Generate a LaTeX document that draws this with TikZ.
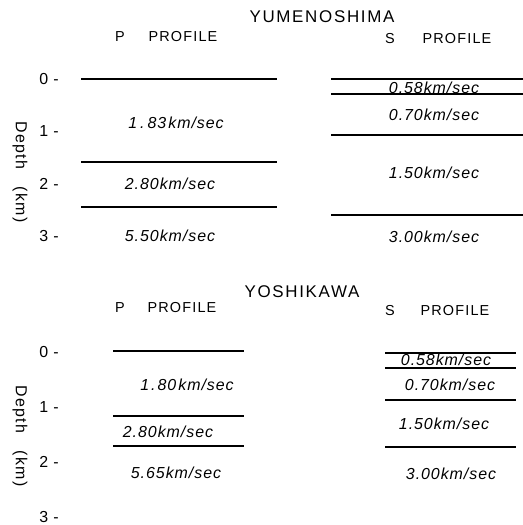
\documentclass[tikz,border=0pt]{standalone}
\usepackage{fontspec}
\setmainfont{Liberation Sans}
\newfontfamily\spaced[LetterSpace=10]{Liberation Sans}
\newfontfamily\vspaced[LetterSpace=6]{Liberation Sans}
\newfontfamily\hspaced[LetterSpace=8]{Liberation Sans}
\begin{document}
\begin{tikzpicture}[x=1bp,y=-1bp,
  ttl/.style={font=\spaced\fontsize{17}{17}\selectfont, inner sep=0pt},
  hdr/.style={font=\hspaced\fontsize{14.5}{14.5}\selectfont, inner sep=0pt},
  tick/.style={font=\fontsize{16}{16}\selectfont, inner sep=0pt, anchor=east},
  vel/.style={font=\vspaced\itshape\fontsize{16}{16}\selectfont, inner sep=0pt},
  axl/.style={font=\hspaced\fontsize{16}{16}\selectfont, inner sep=0pt, rotate=-90},
  bnd/.style={line width=1.15pt}]
\useasboundingbox (0,0) rectangle (523,525);
% ---------------- YUMENOSHIMA ----------------
\node[ttl] (t1) at (322,17) {YUMENOSHIMA};
\node[hdr] (p1) at (120,37) {P};
\node[hdr] (q1) at (183,37) {PROFILE};
\node[hdr] (s1) at (390,39) {S};
\node[hdr] (r1) at (457,39) {PROFILE};
\node[tick] (a10) at (59,79) {0\,\,-};
\node[tick] (a11) at (59,131) {1\,\,-};
\node[tick] (a12) at (59,184) {2\,\,-};
\node[tick] (a13) at (59,236) {3\,\,-};
\node[axl] (d1) at (20,172) {Depth\hspace{18pt}(km)};
% P lines
\coordinate (p1a1) at (81,79);  \coordinate (p1b1) at (277,79);
\coordinate (p1a2) at (81,162); \coordinate (p1b2) at (277,162);
\coordinate (p1a3) at (81,207); \coordinate (p1b3) at (277,207);
\draw[bnd] (p1a1) -- (p1b1);
\draw[bnd] (p1a2) -- (p1b2);
\draw[bnd] (p1a3) -- (p1b3);
\node[vel] (v11) at (176,123) {1\hspace{3pt}.\hspace{3pt}83\hspace{2pt}km/sec};
\node[vel] (v12) at (170,184) {2.80km/sec};
\node[vel] (v13) at (170,236) {5.50km/sec};
% S lines
\coordinate (s1a1) at (331,79);  \coordinate (s1b1) at (523,79);
\coordinate (s1a2) at (331,94);  \coordinate (s1b2) at (523,94);
\coordinate (s1a3) at (331,135); \coordinate (s1b3) at (523,135);
\coordinate (s1a4) at (331,215); \coordinate (s1b4) at (523,215);
\draw[bnd] (s1a1) -- (s1b1);
\draw[bnd] (s1a2) -- (s1b2);
\draw[bnd] (s1a3) -- (s1b3);
\draw[bnd] (s1a4) -- (s1b4);
\node[vel] (w11) at (434,88) {0.58km/sec};
\node[vel] (w12) at (434,115) {0.70km/sec};
\node[vel] (w13) at (434,173) {1.50km/sec};
\node[vel] (w14) at (434,237) {3.00km/sec};
% ---------------- YOSHIKAWA ----------------
\node[ttl] (t2) at (302,292) {YOSHIKAWA};
\node[hdr] (p2) at (120,308) {P};
\node[hdr] (q2) at (182,308) {PROFILE};
\node[hdr] (s2) at (390,311) {S};
\node[hdr] (r2) at (455,311) {PROFILE};
\node[tick] (a20) at (59,352) {0\,\,-};
\node[tick] (a21) at (59,407) {1\,\,-};
\node[tick] (a22) at (59,462) {2\,\,-};
\node[tick] (a23) at (59,517) {3\,\,-};
\node[axl] (d2) at (20,436) {Depth\hspace{18pt}(km)};
% P lines
\coordinate (p2a1) at (113,351); \coordinate (p2b1) at (244,351);
\coordinate (p2a2) at (113,416); \coordinate (p2b2) at (244,416);
\coordinate (p2a3) at (113,446); \coordinate (p2b3) at (244,446);
\draw[bnd] (p2a1) -- (p2b1);
\draw[bnd] (p2a2) -- (p2b2);
\draw[bnd] (p2a3) -- (p2b3);
\node[vel] (v21) at (187,385) {1\hspace{2pt}.\hspace{2pt}80\hspace{2pt}km/sec};
\node[vel] (v22) at (168,432) {2.80km/sec};
\node[vel] (v23) at (176,473) {5.65km/sec};
% S lines
\coordinate (s2a1) at (385,353); \coordinate (s2b1) at (516,353);
\coordinate (s2a2) at (385,368); \coordinate (s2b2) at (516,368);
\coordinate (s2a3) at (385,400); \coordinate (s2b3) at (516,400);
\coordinate (s2a4) at (385,447); \coordinate (s2b4) at (516,447);
\draw[bnd] (s2a1) -- (s2b1);
\draw[bnd] (s2a2) -- (s2b2);
\draw[bnd] (s2a3) -- (s2b3);
\draw[bnd] (s2a4) -- (s2b4);
\node[vel] (w21) at (446,360) {0.58km/sec};
\node[vel] (w22) at (450,385) {0.70km/sec};
\node[vel] (w23) at (444,424) {1.50km/sec};
\node[vel] (w24) at (451,474) {3.00km/sec};
\end{tikzpicture}
\end{document}
